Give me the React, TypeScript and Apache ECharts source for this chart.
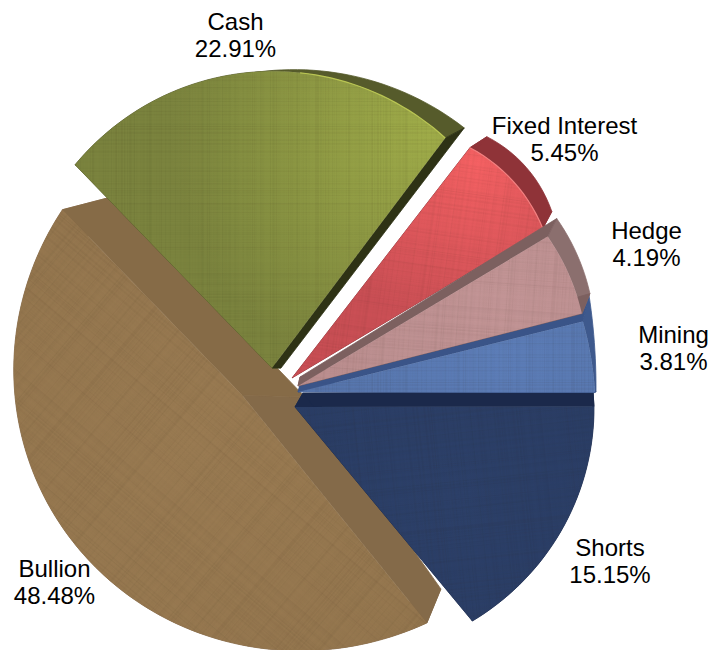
import React, { useEffect, useRef } from "react";
import * as echarts from "echarts";

// Portfolio allocation, in clockwise order from the Cash slice.
const categories = ["Cash", "Fixed Interest", "Hedge", "Mining", "Shorts", "Bullion"];
const shares = [22.91, 5.45, 4.19, 3.81, 15.15, 48.48];

// Back-to-front drawing order of the slices (indices into categories).
const paintOrder = [5, 0, 1, 4, 3, 2];

const START_ANGLE = -44.1; // degrees clockwise from 12 o'clock
const FONT = '24px "Liberation Sans", Arial, sans-serif';

type Pt = [number, number];
interface SliceLook {
  apex: Pt; // where the slice's top face converges
  twist: Pt; // perspective shift of the two edges, degrees
  radii: [number, number, number]; // rim distance at start, middle, end
  apexDepth: Pt; // extrusion vector at the apex
  rimDepth: [Pt, Pt]; // extrusion vector at each end of the rim
  rimEase: number; // how late along the rim the extrusion turns
  face: { x: number; y: number; r: number; inner: string; outer: string };
  rimWall: string;
  startWall: string;
  endWall: string;
  textureAngle: number;
  highlight?: { from: number; color: string };
  label: Pt;
}

const looks: SliceLook[] = [
  {
    apex: [272, 368], twist: [0, -1.4], radii: [283, 296.5, 288],
    apexDepth: [9, 0], rimDepth: [[10, 2], [19, -10]], rimEase: 2,
    face: { x: 430, y: 130, r: 260, inner: "#a0ad49", outer: "#7b843e" },
    rimWall: "#565b2b", startWall: "#565b2b", endWall: "#2e3215",
    textureAngle: 0, highlight: { from: 0.62, color: "#b9c552" }, label: [235.5, 34.8],
  },
  {
    apex: [292, 378], twist: [-0.7, 1.2], radii: [291, 296, 292],
    apexDepth: [2, -2], rimDepth: [[17, -11], [9, -17]], rimEase: 1,
    face: { x: 475, y: 160, r: 170, inner: "#f66163", outer: "#cb4f55" },
    rimWall: "#8f3338", startWall: "#8f3338", endWall: "#8f3338",
    textureAngle: 8, highlight: { from: 0, color: "#f27f7f" }, label: [564.5, 138.8],
  },
  {
    apex: [298, 386], twist: [1.1, 2.6], radii: [291, 293, 293],
    apexDepth: [2, -9], rimDepth: [[9, -18], [8, -20]], rimEase: 1,
    face: { x: 500, y: 300, r: 220, inner: "#c39596", outer: "#bb8e8f" },
    rimWall: "#8b6f6e", startWall: "#7c605f", endWall: "#7c605f",
    textureAngle: 4, label: [646.5, 243.8],
  },
  {
    apex: [298, 392], twist: [3, 3.3], radii: [293.5, 295, 297],
    apexDepth: [3, -10], rimDepth: [[6, -27], [1, -1]], rimEase: 1,
    face: { x: 500, y: 360, r: 220, inner: "#5c7db8", outer: "#5574ab" },
    rimWall: "#3e598d", startWall: "#3a5488", endWall: "#3a5488",
    textureAngle: 0, label: [673.5, 347.7],
  },
  {
    apex: [295, 407], twist: [3.1, -1], radii: [299, 293.5, 278],
    apexDepth: [8, -14], rimDepth: [[-1, -15], [0, -10]], rimEase: 1,
    face: { x: 450, y: 500, r: 260, inner: "#2c4069", outer: "#293c64" },
    rimWall: "#1b294b", startWall: "#1b294b", endWall: "#1b294b",
    textureAngle: 84, label: [610, 560.8],
  },
  {
    apex: [242, 395], twist: [-0.4, 0], radii: [293.5, 224, 258],
    apexDepth: [63, 2], rimDepth: [[14, -34], [50, -13]], rimEase: 1,
    face: { x: 200, y: 450, r: 320, inner: "#9a7b52", outer: "#94764e" },
    rimWall: "#85694a", startWall: "#846a49", endWall: "#866b47",
    textureAngle: 40, label: [54.5, 582],
  },
];

const rad = (d: number) => (d * Math.PI) / 180;
const lerp = (a: number, b: number, t: number) => a + (b - a) * t;
const add = (p: Pt, q: Pt): Pt => [p[0] + q[0], p[1] + q[1]];

// Rim of a tilted disc as seen from its apex: 1/r = A + B sin(a) + C cos(a).
function rimCurve(a0: number, am: number, a1: number, radii: [number, number, number]) {
  const rows = [a0, am, a1].map((a, i) => [1, Math.sin(rad(a)), Math.cos(rad(a)), 1 / radii[i]]);
  const det = (m: number[][]) =>
    m[0][0] * (m[1][1] * m[2][2] - m[1][2] * m[2][1]) -
    m[0][1] * (m[1][0] * m[2][2] - m[1][2] * m[2][0]) +
    m[0][2] * (m[1][0] * m[2][1] - m[1][1] * m[2][0]);
  const base = rows.map((r) => r.slice(0, 3));
  const d = det(base);
  const solve = (col: number) => det(base.map((r, i) => r.map((v, j) => (j === col ? rows[i][3] : v)))) / d;
  const [A, B, C] = [solve(0), solve(1), solve(2)];
  return (a: number) => 1 / (A + B * Math.sin(rad(a)) + C * Math.cos(rad(a)));
}

// Faint woven threads, tiled over each top face.
function buildTexture() {
  const size = 256;
  const canvas = document.createElement("canvas");
  canvas.width = canvas.height = size;
  const ctx = canvas.getContext("2d")!;
  let seed = 20117;
  const next = () => {
    seed = (seed * 1103515245 + 12345) & 0x7fffffff;
    return seed / 0x7fffffff;
  };
  for (let i = 0; i < size; i++) {
    ctx.fillStyle = `rgba(40,30,10,${(next() * next() * 0.07).toFixed(3)})`;
    ctx.fillRect(0, i, size, 1);
    ctx.fillStyle = `rgba(40,30,10,${(next() * next() * 0.07).toFixed(3)})`;
    ctx.fillRect(i, 0, 1, size);
  }
  return canvas;
}

export default function App() {
  const ref = useRef<HTMLDivElement>(null);

  useEffect(() => {
    const chart = echarts.init(ref.current!, null, { renderer: "svg" });
    const texture = buildTexture();
    const total = shares.reduce((s, v) => s + v, 0);

    const startOf = (index: number) =>
      START_ANGLE + (shares.slice(0, index).reduce((s, v) => s + v, 0) / total) * 360;

    const renderItem = (_params: unknown, api: any) => {
      const value = api.value(0) as number;
      const index = api.value(1) as number;
      const look = looks[index];
      const a0 = startOf(index) + look.twist[0];
      const a1 = startOf(index) + (value / total) * 360 + look.twist[1];
      const r = rimCurve(a0, (a0 + a1) / 2, a1, look.radii);

      const steps = Math.max(12, Math.round((a1 - a0) / 1.5));
      const rim: Pt[] = [];
      const outer: Pt[] = [];
      for (let i = 0; i <= steps; i++) {
        const t = i / steps;
        const e = Math.pow(t, look.rimEase);
        const a = lerp(a0, a1, t);
        const p: Pt = [
          look.apex[0] + r(a) * Math.sin(rad(a)),
          look.apex[1] - r(a) * Math.cos(rad(a)),
        ];
        rim.push(p);
        outer.push(
          add(p, [
            lerp(look.rimDepth[0][0], look.rimDepth[1][0], e),
            lerp(look.rimDepth[0][1], look.rimDepth[1][1], e),
          ])
        );
      }
      const apexBack = add(look.apex, look.apexDepth);
      const wall = (points: Pt[], fill: string) => ({
        type: "polygon",
        silent: true,
        shape: { points },
        style: { fill, stroke: fill, lineWidth: 0.8 },
      });
      const faceGradient = {
        type: "radial",
        x: look.face.x,
        y: look.face.y,
        r: look.face.r,
        global: true,
        colorStops: [
          { offset: 0, color: look.face.inner },
          { offset: 1, color: look.face.outer },
        ],
      };
      const children: any[] = [
        wall([...rim, ...outer.slice().reverse()], look.rimWall),
        wall([look.apex, rim[0], outer[0], apexBack], look.startWall),
        wall([look.apex, rim[steps], outer[steps], apexBack], look.endWall),
        {
          type: "polygon",
          silent: true,
          shape: { points: [look.apex, ...rim] },
          style: { fill: faceGradient, stroke: "none" },
        },
        {
          type: "polygon",
          silent: true,
          shape: { points: [look.apex, ...rim] },
          style: {
            fill: { image: texture, repeat: "repeat", rotation: rad(look.textureAngle) },
            stroke: "none",
          },
        },
      ];
      if (look.highlight) {
        children.push({
          type: "polyline",
          silent: true,
          shape: { points: rim.slice(Math.round(look.highlight.from * steps)) },
          style: { fill: "none", stroke: look.highlight.color, lineWidth: 1.2 },
        });
      }
      children.push({
        type: "text",
        silent: true,
        style: {
          text: `${categories[index]}\n${value.toFixed(2)}%`,
          x: look.label[0],
          y: look.label[1],
          align: "center",
          verticalAlign: "middle",
          font: FONT,
          lineHeight: 27,
          fill: "#000000",
        },
      });
      return { type: "group", children };
    };

    chart.setOption({
      animation: false,
      backgroundColor: "#ffffff",
      series: [
        {
          type: "custom",
          coordinateSystem: "none",
          renderItem,
          clip: false,
          data: paintOrder.map((i) => [shares[i], i]),
        },
      ],
    });
    return () => chart.dispose();
  }, []);

  return <div ref={ref} style={{ position: "absolute", left: 0, top: 0, width: 721, height: 650 }} />;
}
